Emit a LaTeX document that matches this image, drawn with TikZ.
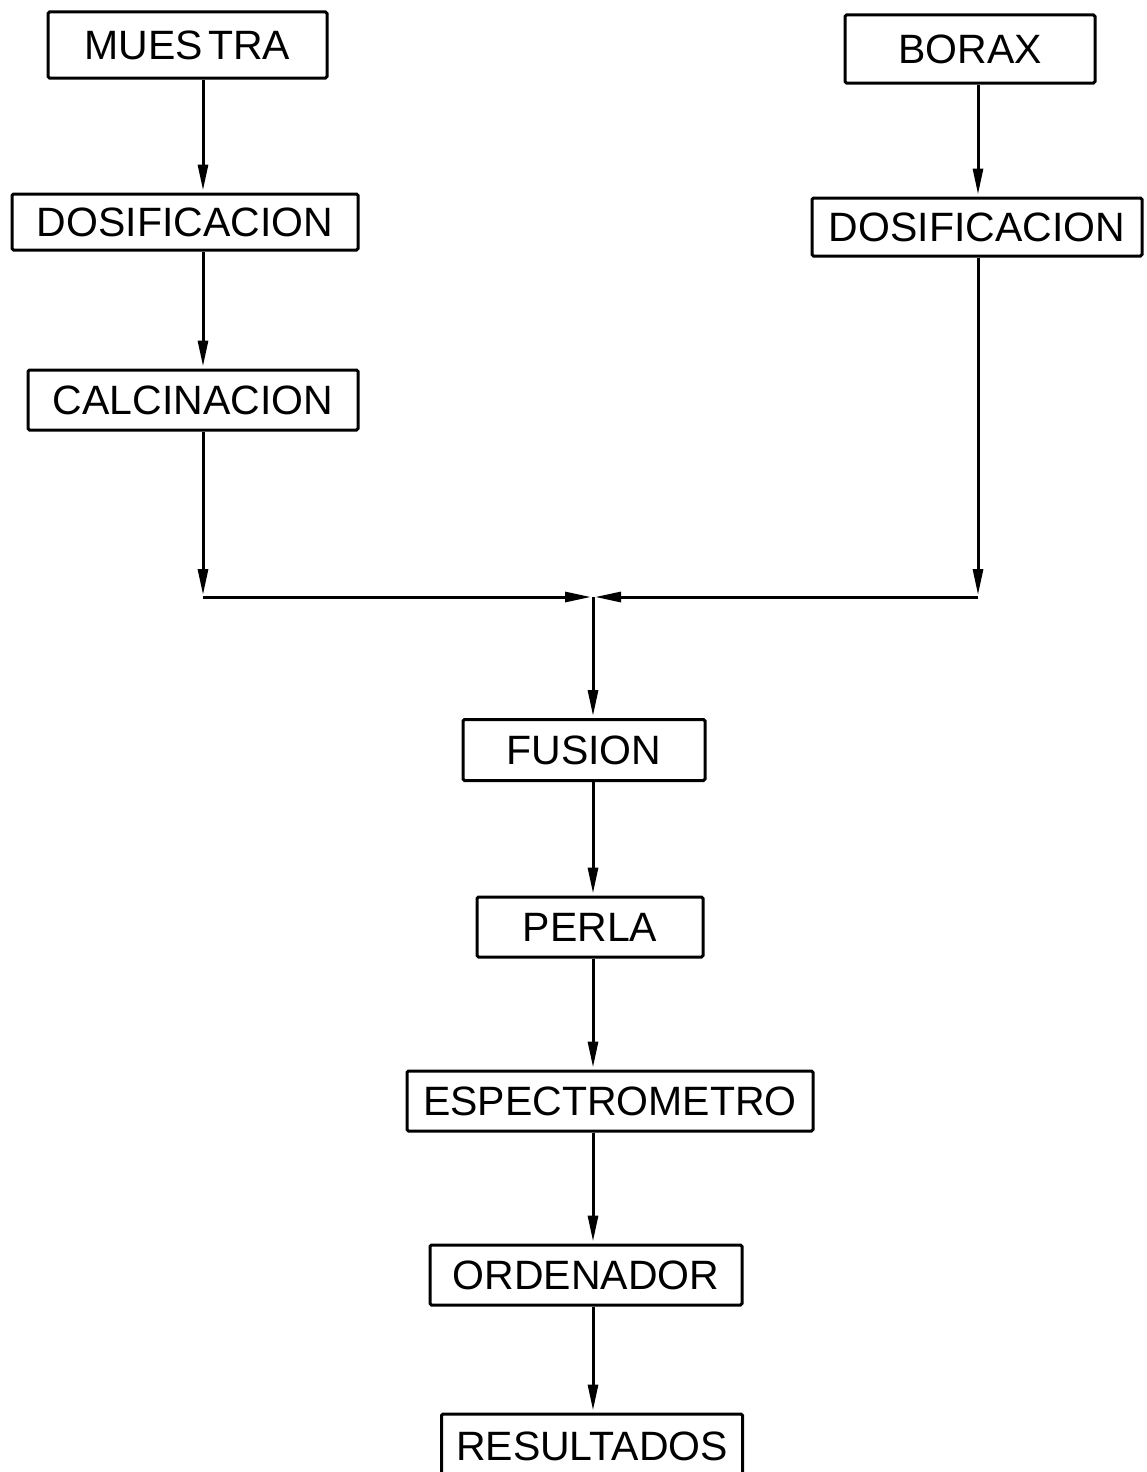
\documentclass[tikz,border=0pt]{standalone}
\usepackage{fontspec}
\setmainfont{Liberation Sans}
\usetikzlibrary{arrows.meta}
\tikzset{
  box/.style={draw, line width=3pt, rounded corners=1.5pt, inner sep=0pt,
    font=\fontsize{41}{41}\selectfont},
  arr/.style={line width=3pt, -{Triangle[length=26pt,width=10pt]}, shorten >=2pt}
}
\begin{document}
\begin{tikzpicture}[x=1pt,y=-1pt]
\useasboundingbox (0,0) rectangle (1147,1472);
\clip (0,0) rectangle (1147,1472);
\coordinate (xl) at (203,0);
\coordinate (xr) at (978,0);
\coordinate (xc) at (593,0);
% left column
\node[box, minimum width=279pt, minimum height=66pt] (mu) at (187.5,45) {MUES\hspace{5pt}TRA};
\node[box, minimum width=346pt, minimum height=56pt] (dl) at (185,222) {DOSIFICACION};
\node[box, minimum width=330pt, minimum height=60pt] (ca) at (193,400) {CALCINACION};
% right column
\node[box, minimum width=250pt, minimum height=68pt] (bo) at (970,49) {BORAX};
\node[box, minimum width=330pt, minimum height=58pt] (dr) at (977,227) {DOSIFICACION};
% centre column
\node[box, minimum width=242pt, minimum height=61pt] (fu) at (584,750) {FUSION};
\node[box, minimum width=226pt, minimum height=60pt] (pe) at (590,927) {PERLA};
\node[box, minimum width=406pt, minimum height=60pt] (es) at (610,1101) {ESPECTROMETRO};
\node[box, minimum width=312pt, minimum height=60pt] (or) at (586,1275) {ORDENADOR};
\node[box, minimum width=301pt, minimum height=64pt] (re) at (592,1446) {RESULTADOS};
% junction
\coordinate (jl) at (203,597);
\coordinate (jr) at (978,597);
\coordinate (jc) at (593,597);
% connectors
\draw[arr] (mu.south -| xl) -- (dl.north -| xl);
\draw[arr] (dl.south -| xl) -- (ca.north -| xl);
\draw[arr] (ca.south -| xl) -- (jl);
\draw[arr] (bo.south -| xr) -- (dr.north -| xr);
\draw[arr] (dr.south -| xr) -- (jr);
\draw[arr] (jl) -- (jc);
\draw[arr] (jr) -- (jc);
\draw[arr] (jc) -- (fu.north -| xc);
\draw[arr] (fu.south -| xc) -- (pe.north -| xc);
\draw[arr] (pe.south -| xc) -- (es.north -| xc);
\draw[arr] (es.south -| xc) -- (or.north -| xc);
\draw[arr] (or.south -| xc) -- (re.north -| xc);
\end{tikzpicture}
\end{document}
